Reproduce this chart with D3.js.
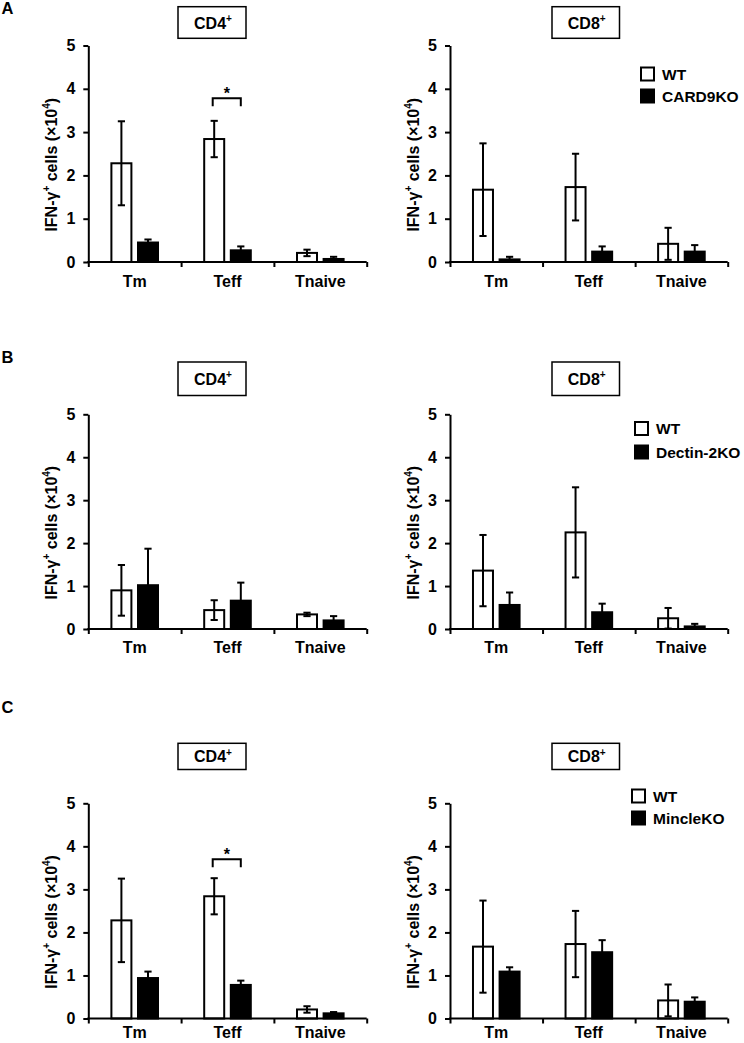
<!DOCTYPE html>
<html>
<head>
<meta charset="utf-8">
<script src="https://cdn.jsdelivr.net/npm/d3@7"></script>
<style>
  html, body { margin: 0; padding: 0; background: #fff; }
  svg { display: block; }
  text { font-family: "Liberation Sans", Arial, sans-serif; font-weight: bold; fill: #000; }
</style>
</head>
<body>
<svg id="chart" width="744" height="1043"></svg>
<script>
// ---------------- data ----------------
const categories = ["Tm", "Teff", "Tnaive"];
const yTicks = [0, 1, 2, 3, 4, 5];
const panelLetters = ["A", "B", "C"];
const subsets = ["CD4", "CD8"];
const wtName = "WT";
const koNames = ["CARD9KO", "Dectin-2KO", "MincleKO"];

// Panel A (CARD9KO)
const A_CD4_WT = [2.28, 2.84, 0.21];
const A_CD4_WT_err = [0.97, 0.42, 0.075];
const A_CD4_KO = [0.45, 0.27, 0.07];
const A_CD4_KO_err = [0.07, 0.09, 0.05];
const A_CD8_WT = [1.67, 1.73, 0.42];
const A_CD8_WT_err = [1.07, 0.77, 0.37];
const A_CD8_KO = [0.06, 0.24, 0.24];
const A_CD8_KO_err = [0.06, 0.12, 0.15];

// Panel B (Dectin-2KO)
const B_CD4_WT = [0.90, 0.44, 0.34];
const B_CD4_WT_err = [0.59, 0.23, 0.04];
const B_CD4_KO = [1.02, 0.66, 0.20];
const B_CD4_KO_err = [0.85, 0.42, 0.10];
const B_CD8_WT = [1.36, 2.25, 0.25];
const B_CD8_WT_err = [0.83, 1.05, 0.24];
const B_CD8_KO = [0.56, 0.39, 0.06];
const B_CD8_KO_err = [0.29, 0.20, 0.06];

// Panel C (MincleKO)
const C_CD4_WT = [2.28, 2.84, 0.21];
const C_CD4_WT_err = [0.97, 0.42, 0.075];
const C_CD4_KO = [0.94, 0.78, 0.12];
const C_CD4_KO_err = [0.15, 0.10, 0.03];
const C_CD8_WT = [1.67, 1.73, 0.42];
const C_CD8_WT_err = [1.07, 0.77, 0.37];
const C_CD8_KO = [1.09, 1.54, 0.39];
const C_CD8_KO_err = [0.10, 0.28, 0.10];

// significance marks: [row, subset, category, level]
const sigMarks = [
  [0, "CD4", "Teff", 3.78],
  [2, "CD4", "Teff", 3.70]
];

// ---------------- layout ----------------
const rows = [
  { y0: 262, y5: 45.5, boxTop: 6.7, boxBot: 38.3, letterY: 13.5, legY: 74, legGap: 22, catPad: 13.5 },
  { y0: 629, y5: 414.3, boxTop: 362, boxBot: 395.5, letterY: 363, legY: 428.5, legGap: 23.5, catPad: 13 },
  { y0: 1018.5, y5: 803.3, boxTop: 743.3, boxBot: 769.5, letterY: 712.5, legY: 796, legGap: 22, catPad: 8.5 }
];
const cols = [
  { x0: 88.3, x1: 366.7, boxL: 178, boxR: 246 },
  { x0: 450, x1: 727.7, boxL: 552, boxR: 619.5 }
];
const legendX = [640, 634, 631];

const seriesData = [
  [[A_CD4_WT, A_CD4_WT_err, A_CD4_KO, A_CD4_KO_err], [A_CD8_WT, A_CD8_WT_err, A_CD8_KO, A_CD8_KO_err]],
  [[B_CD4_WT, B_CD4_WT_err, B_CD4_KO, B_CD4_KO_err], [B_CD8_WT, B_CD8_WT_err, B_CD8_KO, B_CD8_KO_err]],
  [[C_CD4_WT, C_CD4_WT_err, C_CD4_KO, C_CD4_KO_err], [C_CD8_WT, C_CD8_WT_err, C_CD8_KO, C_CD8_KO_err]]
];

const svg = d3.select("#chart");
const FS = 16;
const SW = 2;

function supText(sel, parts, fs, sfs) {
  let prevSup = false;
  parts.forEach(([t, sup]) => {
    const ts = sel.append("tspan").text(t);
    if (sup && !prevSup) ts.attr("dy", -6.5).attr("font-size", sfs);
    else if (!sup && prevSup) ts.attr("dy", 6.5).attr("font-size", fs);
    else if (sup) ts.attr("font-size", sfs);
    prevSup = sup;
  });
}

rows.forEach((row, ri) => {
  svg.append("text").attr("x", 1.5).attr("y", row.letterY)
    .attr("font-size", 16.5).text(panelLetters[ri]);

  cols.forEach((col, ci) => {
    const [wt, wtErr, ko, koErr] = seriesData[ri][ci];
    const groups = [wtName, koNames[ri]];
    const g = svg.append("g");

    const y = d3.scaleLinear().domain([0, 5]).range([row.y0, row.y5]);
    const x0 = d3.scaleBand().domain(categories).range([col.x0, col.x1]).padding(0);
    const bw = x0.bandwidth();
    const sub = 26.6;
    const x1 = d3.scaleBand().domain(groups).range([bw / 2 - sub, bw / 2 + sub]).padding(0);
    const barW = 20;

    // title box
    g.append("rect").attr("x", col.boxL).attr("y", row.boxTop)
      .attr("width", col.boxR - col.boxL).attr("height", row.boxBot - row.boxTop)
      .attr("fill", "#fff").attr("stroke", "#000").attr("stroke-width", 1.5);
    const tt = g.append("text").attr("x", (col.boxL + col.boxR) / 2 + 1)
      .attr("y", (row.boxTop + row.boxBot) / 2 + 6)
      .attr("text-anchor", "middle").attr("font-size", FS);
    supText(tt, [[subsets[ci], false], ["+", true]], FS, 10);

    // bars
    const recs = [];
    categories.forEach((c, i) => {
      recs.push({ c, grp: groups[0], v: wt[i], e: wtErr[i], fill: "#fff" });
      recs.push({ c, grp: groups[1], v: ko[i], e: koErr[i], fill: "#000" });
    });
    const cx = d => x0(d.c) + x1(d.grp) + x1.bandwidth() / 2;

    g.selectAll("rect.bar").data(recs).enter().append("rect")
      .attr("class", "bar")
      .attr("x", d => cx(d) - barW / 2)
      .attr("y", d => y(d.v))
      .attr("width", barW)
      .attr("height", d => y(0) - y(d.v))
      .attr("fill", d => d.fill).attr("stroke", "#000").attr("stroke-width", SW);

    // error bars
    const eg = g.selectAll("g.err").data(recs).enter().append("g").attr("class", "err");
    eg.append("line")
      .attr("x1", cx).attr("x2", cx)
      .attr("y1", d => y(Math.max(0, d.v - d.e))).attr("y2", d => y(d.v + d.e))
      .attr("stroke", "#000").attr("stroke-width", SW);
    eg.append("line")
      .attr("x1", d => cx(d) - 3.6).attr("x2", d => cx(d) + 3.6)
      .attr("y1", d => y(d.v + d.e)).attr("y2", d => y(d.v + d.e))
      .attr("stroke", "#000").attr("stroke-width", SW);
    eg.append("line")
      .attr("x1", d => cx(d) - 3.6).attr("x2", d => cx(d) + 3.6)
      .attr("y1", d => y(Math.max(0, d.v - d.e))).attr("y2", d => y(Math.max(0, d.v - d.e)))
      .attr("stroke", "#000").attr("stroke-width", SW);

    // y axis
    const ya = g.append("g").attr("transform", `translate(${col.x0},0)`)
      .call(d3.axisLeft(y).tickValues(yTicks).tickFormat(d3.format("d"))
        .tickSize(5).tickSizeOuter(0).tickPadding(8));
    ya.select(".domain").attr("stroke-width", SW);
    ya.selectAll(".tick line").attr("stroke-width", SW);
    ya.selectAll("text").attr("font-size", FS).attr("font-family", null).attr("font-weight", "bold");

    // x axis: boundary ticks
    const xb = d3.scaleLinear().domain([0, categories.length]).range([col.x0, col.x1]);
    const xa = g.append("g").attr("transform", `translate(0,${row.y0})`)
      .call(d3.axisBottom(xb).tickValues(d3.range(categories.length + 1)).tickFormat("")
        .tickSize(5).tickSizeOuter(0));
    xa.select(".domain").attr("stroke-width", SW).attr("d", `M${col.x0 - 1},0H${col.x1}`);
    xa.selectAll(".tick line").attr("stroke-width", SW);
    // category labels
    const xl = g.append("g").attr("transform", `translate(0,${row.y0})`)
      .call(d3.axisBottom(x0).tickSize(0).tickPadding(row.catPad));
    xl.select(".domain").remove();
    xl.selectAll("text").attr("font-size", FS).attr("font-family", null).attr("font-weight", "bold");

    // y label
    const yl = g.append("text")
      .attr("transform", `translate(${col.x0 - 31.5},${(row.y0 + row.y5) / 2 + 11}) rotate(-90)`)
      .attr("text-anchor", "middle").attr("font-size", FS);
    supText(yl, [["IFN-\u03b3", false], ["+", true], [" cells (\u00d710", false], ["4", true], [")", false]], FS, 10);

    // significance
    sigMarks.filter(s => s[0] === ri && s[1] === subsets[ci]).forEach(s => {
      const xa1 = x0(s[2]) + x1(groups[0]) + x1.bandwidth() / 2 - 1.5;
      const xa2 = x0(s[2]) + x1(groups[1]) + x1.bandwidth() / 2;
      const yy = y(s[3]);
      g.append("path")
        .attr("d", `M${xa1},${yy + 8}V${yy}H${xa2}V${yy + 8}`)
        .attr("fill", "none").attr("stroke", "#000").attr("stroke-width", SW);
      g.append("text").attr("x", (xa1 + xa2) / 2).attr("y", yy + 1)
        .attr("text-anchor", "middle").attr("font-size", FS).text("*");
    });

    // legend (CD8 panels only)
    if (ci === 1) {
      const lx = legendX[ri];
      groups.forEach((gname, gi) => {
        const cy = row.legY + gi * row.legGap;
        g.append("rect").attr("x", lx + 1).attr("y", cy - 6.5).attr("width", 13).attr("height", 13)
          .attr("fill", gi === 0 ? "#fff" : "#000").attr("stroke", "#000").attr("stroke-width", SW);
        g.append("text").attr("x", lx + 22).attr("y", cy + 5.5)
          .attr("font-size", 15.5).text(gname);
      });
    }
  });
});
</script>
</body>
</html>
